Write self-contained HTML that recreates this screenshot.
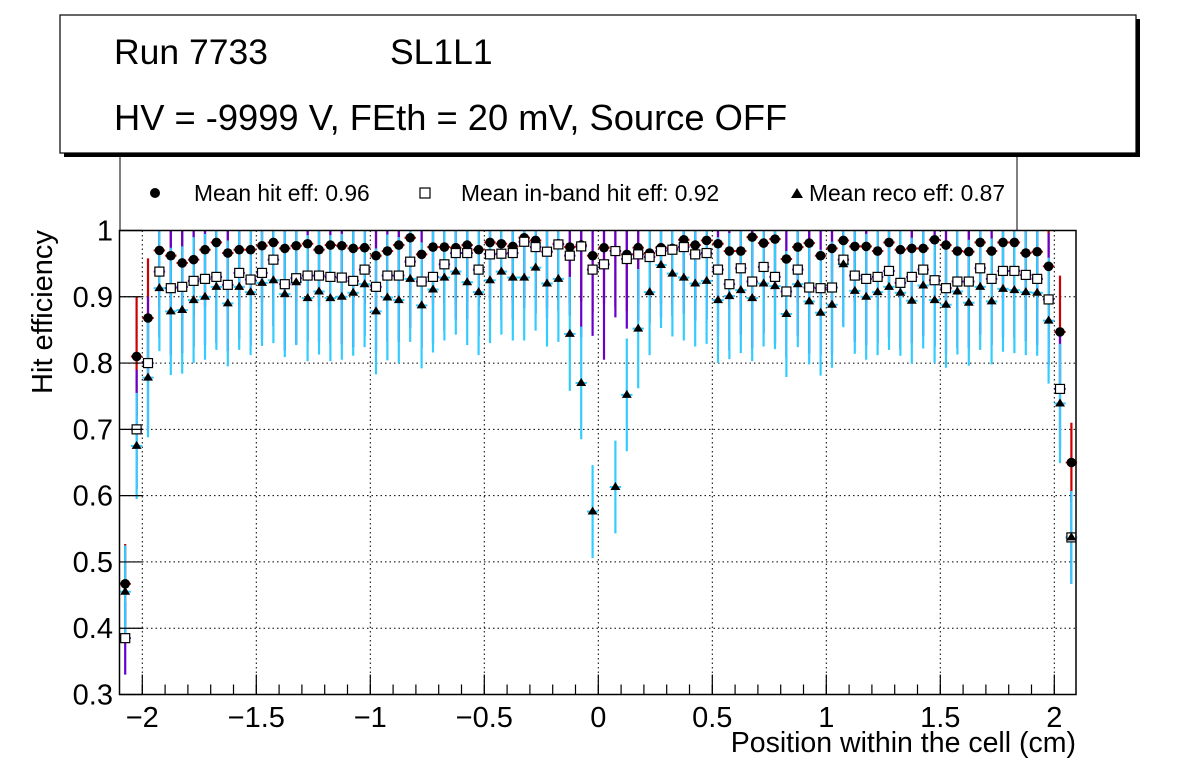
<!DOCTYPE html>
<html><head><meta charset="utf-8">
<style>
html,body{margin:0;padding:0;background:#fff;}
svg{display:block;font-family:"Liberation Sans",Arial,sans-serif;}
</style></head>
<body>
<svg id="chart" width="1196" height="772" viewBox="0 0 1196 772" xmlns="http://www.w3.org/2000/svg">
  <rect width="1196" height="772" fill="#fff"/>
  <g id="grid"></g>
  <g id="bars"></g>
  <g id="marks"></g>
  <rect x="119.5" y="230.5" width="956.5" height="464" fill="none" stroke="#000" stroke-width="1.5"/>
  <g id="axes"></g>
  <text transform="translate(52,312) rotate(-90)" text-anchor="middle" font-size="29">Hit efficiency</text>
  <text x="1076" y="752" text-anchor="end" font-size="28.5">Position within the cell (cm)</text>
  <g>
    <path d="M120 157 V230 M1017 157 V230" stroke="#000" stroke-width="1"/>
    <circle cx="155" cy="193" r="5" fill="#000"/>
    <text x="194" y="201" font-size="22.8">Mean hit  eff: 0.96</text>
    <rect x="420" y="188" width="10" height="10" fill="#fff" stroke="#000" stroke-width="1.2"/>
    <text x="461" y="201" font-size="22.8">Mean in-band hit eff: 0.92</text>
    <path d="M797 188 L803 198 L791 198 Z" fill="#000"/>
    <text x="809" y="201" font-size="22.8">Mean reco eff: 0.87</text>
  </g>
  <g>
    <rect x="64" y="19" width="1076" height="138" fill="#000"/>
    <rect x="60" y="15" width="1076" height="138" fill="#fff" stroke="#000" stroke-width="1.2"/>
    <text x="114" y="64" font-size="35.5">Run 7733</text>
    <text x="390" y="64" font-size="35.5">SL1L1</text>
    <text x="114" y="130" font-size="36.3">HV = -9999 V, FEth = 20 mV, Source OFF</text>
  </g>
</svg>
<script>
const hitEff = [0.467,0.810,0.868,0.970,0.962,0.951,0.956,0.971,0.982,0.966,0.971,0.971,0.977,0.982,0.973,0.977,0.980,0.971,0.978,0.977,0.973,0.974,0.962,0.969,0.978,0.989,0.964,0.975,0.975,0.974,0.978,0.971,0.982,0.980,0.976,0.989,0.985,0.968,0.980,0.975,0.978,0.962,0.974,0.969,0.964,0.974,0.966,0.974,0.973,0.986,0.978,0.985,0.980,0.969,0.969,0.990,0.981,0.987,0.957,0.975,0.981,0.962,0.973,0.985,0.976,0.976,0.969,0.982,0.971,0.973,0.973,0.986,0.978,0.969,0.968,0.982,0.969,0.982,0.982,0.966,0.968,0.946,0.847,0.650];
const inbandEff = [0.385,0.700,0.800,0.938,0.913,0.915,0.924,0.927,0.930,0.918,0.936,0.926,0.936,0.956,0.919,0.928,0.932,0.932,0.930,0.929,0.924,0.941,0.915,0.932,0.932,0.953,0.923,0.930,0.949,0.966,0.966,0.941,0.964,0.965,0.966,0.983,0.975,0.968,0.979,0.962,0.976,0.941,0.949,0.969,0.957,0.964,0.960,0.969,0.971,0.975,0.964,0.966,0.941,0.919,0.943,0.923,0.945,0.930,0.908,0.941,0.914,0.913,0.914,0.956,0.932,0.927,0.930,0.939,0.921,0.930,0.941,0.925,0.913,0.923,0.923,0.943,0.927,0.939,0.939,0.933,0.927,0.896,0.761,0.537];
const recoEff = [0.455,0.675,0.778,0.913,0.878,0.880,0.895,0.900,0.915,0.890,0.915,0.907,0.921,0.925,0.904,0.922,0.898,0.908,0.898,0.900,0.906,0.919,0.878,0.899,0.895,0.927,0.887,0.911,0.929,0.938,0.922,0.907,0.925,0.938,0.929,0.929,0.944,0.920,0.927,0.844,0.770,0.576,null,0.613,0.752,0.852,0.907,0.948,0.935,0.929,0.920,0.924,0.895,0.901,0.910,0.898,0.920,0.916,0.874,0.919,0.893,0.876,0.888,0.949,0.909,0.900,0.907,0.915,0.906,0.894,0.917,0.895,0.888,0.908,0.891,0.915,0.893,0.912,0.910,0.907,0.906,0.864,0.739,0.537];
const hitErr = [0.06,0.09,0.09,0.085,0.085,0.085,0.085,0.085,0.085,0.085,0.085,0.085,0.085,0.085,0.085,0.085,0.085,0.085,0.085,0.085,0.085,0.085,0.085,0.085,0.085,0.085,0.085,0.085,0.085,0.085,0.085,0.085,0.085,0.085,0.085,0.085,0.085,0.085,0.085,0.085,0.085,0.085,0.085,0.085,0.085,0.085,0.085,0.085,0.085,0.085,0.085,0.085,0.085,0.085,0.085,0.085,0.085,0.085,0.085,0.085,0.085,0.085,0.085,0.085,0.085,0.085,0.085,0.085,0.085,0.085,0.085,0.085,0.085,0.085,0.085,0.085,0.085,0.085,0.085,0.085,0.085,0.085,0.085,0.06];
const inbandErr = [0.055,0.09,0.10,0.10,0.10,0.10,0.10,0.10,0.10,0.10,0.10,0.10,0.10,0.10,0.10,0.10,0.10,0.10,0.10,0.10,0.10,0.10,0.10,0.10,0.10,0.10,0.10,0.10,0.10,0.10,0.10,0.10,0.10,0.10,0.10,0.10,0.10,0.10,0.10,0.09,0.137,0.10,0.144,0.10,0.105,0.10,0.10,0.10,0.10,0.10,0.10,0.10,0.10,0.10,0.10,0.10,0.10,0.10,0.10,0.10,0.10,0.10,0.10,0.10,0.10,0.10,0.10,0.10,0.10,0.10,0.10,0.10,0.10,0.10,0.10,0.10,0.10,0.10,0.10,0.10,0.10,0.10,0.09,0.07];
const recoErr = [0.07,0.08,0.09,0.095,0.096,0.096,0.095,0.095,0.095,0.095,0.095,0.095,0.095,0.095,0.095,0.095,0.095,0.095,0.095,0.095,0.095,0.095,0.095,0.095,0.095,0.095,0.095,0.095,0.095,0.095,0.095,0.095,0.095,0.095,0.095,0.095,0.095,0.095,0.095,0.086,0.085,0.07,0.0,0.07,0.085,0.09,0.095,0.095,0.095,0.095,0.095,0.095,0.095,0.095,0.095,0.095,0.095,0.095,0.095,0.095,0.095,0.095,0.095,0.095,0.095,0.095,0.095,0.095,0.095,0.095,0.095,0.095,0.095,0.095,0.095,0.095,0.095,0.095,0.095,0.095,0.095,0.095,0.09,0.07];
const xTickLabels = ["\u22122","\u22121.5","\u22121","\u22120.5","0","0.5","1","1.5","2"];
const xTickValues = [-2,-1.5,-1,-0.5,0,0.5,1,1.5,2];
const yTickLabels = ["0.3","0.4","0.5","0.6","0.7","0.8","0.9","1"];
const yTickValues = [0.3,0.4,0.5,0.6,0.7,0.8,0.9,1.0];
const binStart = -2.075, binWidth = 0.05;

const NS = "http://www.w3.org/2000/svg";
const X0 = 119.5, X1 = 1076, Y0 = 694.5, Y1 = 230.5;
const xScale = v => 598.3 + v * 228;
const yScale = v => Y0 - (v - 0.3) / 0.7 * (Y0 - Y1);
const clampY = y => Math.max(Y1, Math.min(Y0, y));
function mk(tag, attrs, parent) {
  const e = document.createElementNS(NS, tag);
  for (const k in attrs) e.setAttribute(k, attrs[k]);
  parent.appendChild(e);
  return e;
}
const grid = document.getElementById('grid');
const axes = document.getElementById('axes');
const bars = document.getElementById('bars');
const marks = document.getElementById('marks');

xTickValues.forEach((v, i) => {
  const x = xScale(v);
  const g = mk('line', {x1:x, x2:x, y1:Y1, y2:Y0, stroke:'#000', 'stroke-width':1, 'stroke-dasharray':'1.5,3'}, grid);
  
  
  const t = mk('line', {x1:x, x2:x, y1:Y0, y2:Y0-20, stroke:'#000', 'stroke-width':1.2}, axes);
  
  
  const l = mk('text', {x:x, y:727, 'text-anchor':'middle', 'font-size':29}, axes);
  l.textContent = xTickLabels[i];
  
  
});
for (let v = -2.1; v <= 2.1; v += 0.1) {
  const x = xScale(v);
  if (x < X0 || x > X1) continue;
  const t = mk('line', {x1:x, x2:x, y1:Y0, y2:Y0-10, stroke:'#000', 'stroke-width':1.2}, axes);
  
  
}
yTickValues.forEach((v, i) => {
  const y = yScale(v);
  const g = mk('line', {x1:X0, x2:X1, y1:y, y2:y, stroke:'#000', 'stroke-width':1, 'stroke-dasharray':'1.5,3'}, grid);
  
  
  const t = mk('line', {x1:X0, x2:X0+23, y1:y, y2:y, stroke:'#000', 'stroke-width':1.2}, axes);
  
  
  const l = mk('text', {x:113, y:y+10, 'text-anchor':'end', 'font-size':29}, axes);
  l.textContent = yTickLabels[i];
  
  
});

function drawBars(vals, errs, color, name) {
  vals.forEach((v, k) => {
    if (v === null) return;
    const x = xScale(binStart + k * binWidth);
    const y = yScale(v);
    const e = mk('line', {x1:x, x2:x, y1:clampY(yScale(v + errs[k])), y2:clampY(yScale(v - errs[k])), stroke:color, 'stroke-width':2.2}, bars);
    
    
    const h = mk('line', {x1:x - 5.7, x2:x + 5.7, y1:y, y2:y, stroke:color, 'stroke-width':2}, bars);
    
    
  });
}
drawBars(hitEff, hitErr, '#cc0000', 'hit');
drawBars(inbandEff, inbandErr, '#6600cc', 'inband');
drawBars(recoEff, recoErr, '#33ccff', 'reco');

hitEff.forEach((v, k) => {
  const x = xScale(binStart + k * binWidth), y = yScale(v);
  const c = mk('circle', {cx:x, cy:y, r:4.8, fill:'#000'}, marks);
  
  
});
inbandEff.forEach((v, k) => {
  const x = xScale(binStart + k * binWidth), y = yScale(v);
  const r = mk('rect', {x:x - 4.5, y:y - 4.5, width:9, height:9, fill:'#fff', stroke:'#000', 'stroke-width':1.2}, marks);
  
  
});
recoEff.forEach((v, k) => {
  if (v === null) return;
  const x = xScale(binStart + k * binWidth), y = yScale(v);
  const p = mk('path', {d:`M${x} ${y-5} L${x+5} ${y+3} L${x-5} ${y+3} Z`, fill:'#000'}, marks);
  
  
});
</script>
</body></html>
